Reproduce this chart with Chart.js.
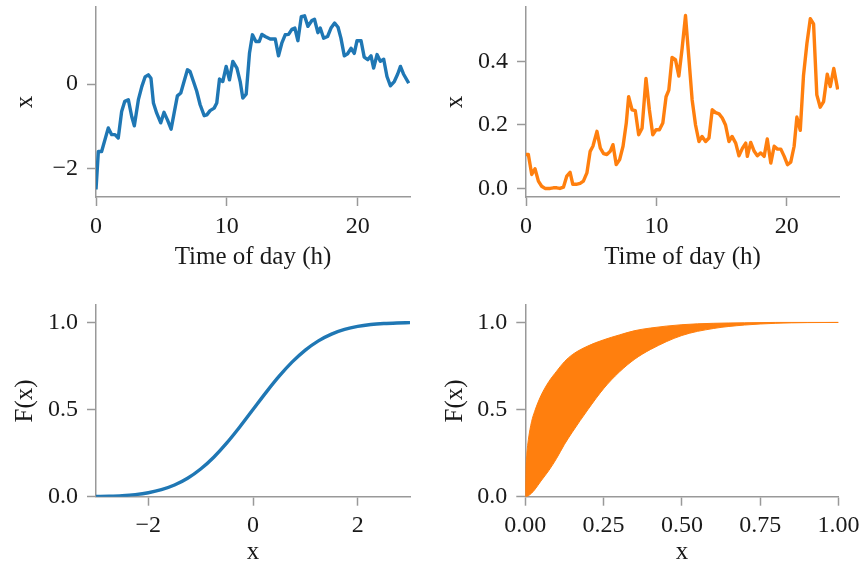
<!DOCTYPE html>
<html>
<head>
<meta charset="utf-8">
<script src="https://cdn.jsdelivr.net/npm/chart.js@4.4.0/dist/chart.umd.min.js"></script>
<style>
  html, body { margin: 0; padding: 0; background: #fff; }
  #fig { position: relative; width: 861px; height: 565px; }
  #fig canvas { position: absolute; }
</style>
</head>
<body>
<div id="fig">
  <canvas id="c1" width="430" height="282" style="left:0;top:0"></canvas>
  <canvas id="c2" width="431" height="282" style="left:430px;top:0"></canvas>
  <canvas id="c3" width="430" height="283" style="left:0;top:282px"></canvas>
  <canvas id="c4" width="431" height="283" style="left:430px;top:282px"></canvas>
</div>
<script>
// top left: blue series over the day
const hoursBlue = [0,0.18,0.43,0.94,1.2,1.45,1.7,1.96,2.2,2.47,2.73,2.93,3.24,3.5,3.75,4.0,4.2,4.39,4.64,4.95,
  5.2,5.46,5.74,5.97,6.22,6.48,6.73,6.99,7.19,7.45,7.7,7.96,8.27,8.47,8.72,9.03,9.23,9.44,9.69,9.95,
  10.2,10.46,10.77,11.02,11.22,11.48,11.73,11.96,12.22,12.47,12.68,12.93,13.32,13.7,13.95,14.2,14.46,14.72,14.97,15.2,
  15.43,15.69,15.94,16.2,16.5,16.7,16.96,17.14,17.4,17.7,17.96,18.24,18.5,18.72,18.98,19.23,19.49,19.74,19.95,20.26,
  20.5,20.77,21.02,21.22,21.48,21.73,21.99,22.24,22.5,22.8,23.06,23.27,23.5,23.9];
const valuesBlue = [-2.5,-1.6,-1.6,-1.04,-1.2,-1.2,-1.28,-0.65,-0.41,-0.37,-0.77,-0.99,-0.37,-0.06,0.17,0.22,0.14,-0.45,-0.69,-0.92,
  -0.67,-0.85,-1.07,-0.69,-0.28,-0.21,0.06,0.34,0.30,0.06,-0.17,-0.49,-0.75,-0.73,-0.63,-0.57,-0.45,0.12,0.06,0.42,
  0.10,0.54,0.38,0.06,-0.33,-0.24,0.73,1.17,1.01,1.01,1.18,1.13,1.07,1.07,0.67,0.97,1.17,1.18,1.30,1.33,
  1.03,1.60,1.62,1.37,1.51,1.54,1.22,1.33,1.09,1.13,1.33,1.45,1.35,1.09,0.67,0.72,0.85,0.73,1.03,1.03,
  0.64,0.58,0.67,0.38,0.70,0.54,0.59,0.18,-0.04,0.06,0.24,0.42,0.24,0.02];

// top right: orange series over the day
const hoursOrange = [0,0.18,0.44,0.69,0.95,1.2,1.46,1.85,2.1,2.36,2.6,2.87,3.13,3.38,3.59,3.85,4.15,4.4,4.67,4.92,
  5.13,5.44,5.7,5.95,6.2,6.46,6.67,6.92,7.18,7.44,7.69,7.87,8.13,8.38,8.64,8.9,9.2,9.46,9.72,9.97,
  10.23,10.49,10.74,10.95,11.2,11.46,11.72,11.97,12.23,12.49,12.74,13.0,13.26,13.5,13.77,14.03,14.28,14.54,14.8,15.05,
  15.3,15.56,15.8,16.08,16.33,16.6,16.85,16.97,17.23,17.5,17.74,18.0,18.26,18.5,18.77,19.03,19.28,19.54,19.8,20.05,
  20.3,20.56,20.77,21.03,21.28,21.54,21.8,22.05,22.3,22.56,22.82,23.1,23.33,23.6,23.9];
const valuesOrange = [0.107,0.107,0.044,0.062,0.023,0.007,0.0,0.0,0.002,0.002,0.0,0.004,0.039,0.051,0.013,0.013,0.016,0.023,0.049,0.117,
  0.133,0.18,0.127,0.11,0.107,0.117,0.138,0.075,0.091,0.133,0.206,0.289,0.248,0.245,0.169,0.19,0.347,0.248,0.169,0.185,
  0.185,0.206,0.289,0.31,0.413,0.406,0.354,0.441,0.545,0.41,0.279,0.2,0.148,0.164,0.148,0.159,0.248,0.239,0.235,0.222,
  0.2,0.148,0.164,0.143,0.103,0.127,0.143,0.101,0.145,0.117,0.103,0.112,0.101,0.156,0.08,0.133,0.124,0.124,0.101,0.075,
  0.083,0.133,0.225,0.183,0.357,0.457,0.535,0.519,0.295,0.256,0.274,0.36,0.321,0.378,0.312];

// bottom left: S-shaped CDF
const cdfX = [-3,-2.75,-2.5,-2.25,-2,-1.75,-1.5,-1.25,-1,-0.75,-0.5,-0.25,0,0.25,0.5,0.75,1,1.25,1.5,1.75,2,2.25,2.5,2.75,3];
const cdfY = [0.0013,0.003,0.0062,0.0122,0.0228,0.0401,0.0668,0.1056,0.1587,0.2266,0.3085,0.4013,0.5,
  0.5987,0.6915,0.7734,0.8413,0.8944,0.9332,0.9599,0.9772,0.9878,0.9938,0.997,0.9987];

// bottom right: band between two CDFs
const bandX = [0,0.002,0.005,0.01,0.02,0.03,0.05,0.075,0.1,0.125,0.15,0.2,0.25,0.3,0.35,0.4,0.5,0.6,0.7,0.8,0.9,1.0];
const bandUpper = [0,0.17,0.25,0.33,0.43,0.49,0.58,0.66,0.72,0.775,0.815,0.865,0.9,0.928,0.953,0.968,0.987,0.995,0.998,1.0,1.0,1.0];
const bandLower = [0,0,0.002,0.006,0.02,0.04,0.09,0.15,0.22,0.3,0.37,0.5,0.62,0.715,0.79,0.845,0.925,0.965,0.985,0.995,0.999,1.0];

const BLUE = '#1f77b4';
const ORANGE = '#ff7f0e';
const SPINE = '#999999';
const TEXT = '#1a1a1a';
const FAMILY = "'Liberation Serif', 'DejaVu Serif', serif";
const TICK_FONT = { family: FAMILY, size: 24 };
const TITLE_FONT = { family: FAMILY, size: 25, lineHeight: 1 };

const minus = v => (v < 0 ? '\u2212' + Math.abs(v) : String(v));

function pts(xs, ys) {
  return xs.map((x, i) => ({ x: x, y: ys[i] }));
}

function axis(o) {
  return {
    type: 'linear',
    position: o.position,
    min: o.min,
    max: o.max,
    grid: { display: true, drawOnChartArea: false, drawTicks: true, tickLength: 9, tickWidth: 1.5, tickColor: SPINE },
    border: { display: true, color: SPINE, width: 1.5 },
    ticks: { font: TICK_FONT, color: TEXT, padding: o.position === 'left' ? 9 : 6, maxRotation: 0, autoSkip: false, callback: o.fmt },
    afterBuildTicks: s => { s.ticks = o.ticks.map(v => ({ value: v })); },
    afterFit: s => {
      // fixed box sizes, layout padding takes care of the overhang
      if (o.position === 'left') s.width = o.size; else s.height = o.size;
      s.paddingTop = 0; s.paddingBottom = 0; s.paddingLeft = 0; s.paddingRight = 0;
    },
    title: {
      display: true, text: o.title, font: TITLE_FONT, color: TEXT,
      padding: o.position === 'left' ? { top: 13, bottom: 0 } : { top: 0, bottom: o.titlePad }
    }
  };
}

function draw(id, datasets, pad, xOpts, yOpts) {
  new Chart(document.getElementById(id), {
    type: 'line',
    data: { datasets: datasets },
    options: {
      responsive: false,
      animation: false,
      devicePixelRatio: 1,
      layout: { padding: pad },
      plugins: { legend: { display: false }, tooltip: { enabled: false } },
      elements: { point: { radius: 0 } },
      scales: { x: axis(Object.assign({ position: 'bottom' }, xOpts)), y: axis(Object.assign({ position: 'left' }, yOpts)) }
    }
  });
}

const lineStyle = c => ({ borderColor: c, borderWidth: 3.4, borderJoinStyle: 'round', fill: false, tension: 0 });

draw('c1', [Object.assign({ data: pts(hoursBlue, valuesBlue) }, lineStyle(BLUE))],
  { top: 7, right: 20, bottom: 0, left: 0 },
  { min: 0, max: 24, ticks: [0, 10, 20], fmt: v => String(v), title: 'Time of day (h)', size: 85, titlePad: 12 },
  { min: -2.68, max: 1.83, ticks: [-2, 0], fmt: minus, title: 'x', size: 96 });

draw('c2', [Object.assign({ data: pts(hoursOrange, valuesOrange) }, lineStyle(ORANGE))],
  { top: 7, right: 22, bottom: 0, left: 0 },
  { min: 0, max: 24, ticks: [0, 10, 20], fmt: v => String(v), title: 'Time of day (h)', size: 85, titlePad: 12 },
  { min: -0.027, max: 0.572, ticks: [0, 0.2, 0.4], fmt: v => v.toFixed(1), title: 'x', size: 96 });

draw('c3', [Object.assign({ data: pts(cdfX, cdfY), cubicInterpolationMode: 'monotone' }, lineStyle(BLUE))],
  { top: 23, right: 20, bottom: 0, left: 0 },
  { min: -3, max: 3, ticks: [-2, 0, 2], fmt: minus, title: 'x', size: 68.3, titlePad: 0 },
  { min: 0, max: 1.1, ticks: [0, 0.5, 1], fmt: v => v.toFixed(1), title: 'F(x)', size: 96 });

draw('c4', [
    { data: pts(bandX, bandUpper), borderColor: ORANGE, backgroundColor: ORANGE, borderWidth: 1, fill: '+1', cubicInterpolationMode: 'monotone' },
    { data: pts(bandX, bandLower), borderColor: ORANGE, borderWidth: 1, fill: false, cubicInterpolationMode: 'monotone' }
  ],
  { top: 23, right: 22.5, bottom: 0, left: 0 },
  { min: 0, max: 1, ticks: [0, 0.25, 0.5, 0.75, 1], fmt: v => v.toFixed(2), title: 'x', size: 68.3, titlePad: 0 },
  { min: 0, max: 1.1, ticks: [0, 0.5, 1], fmt: v => v.toFixed(1), title: 'F(x)', size: 95.3 });
</script>
</body>
</html>
